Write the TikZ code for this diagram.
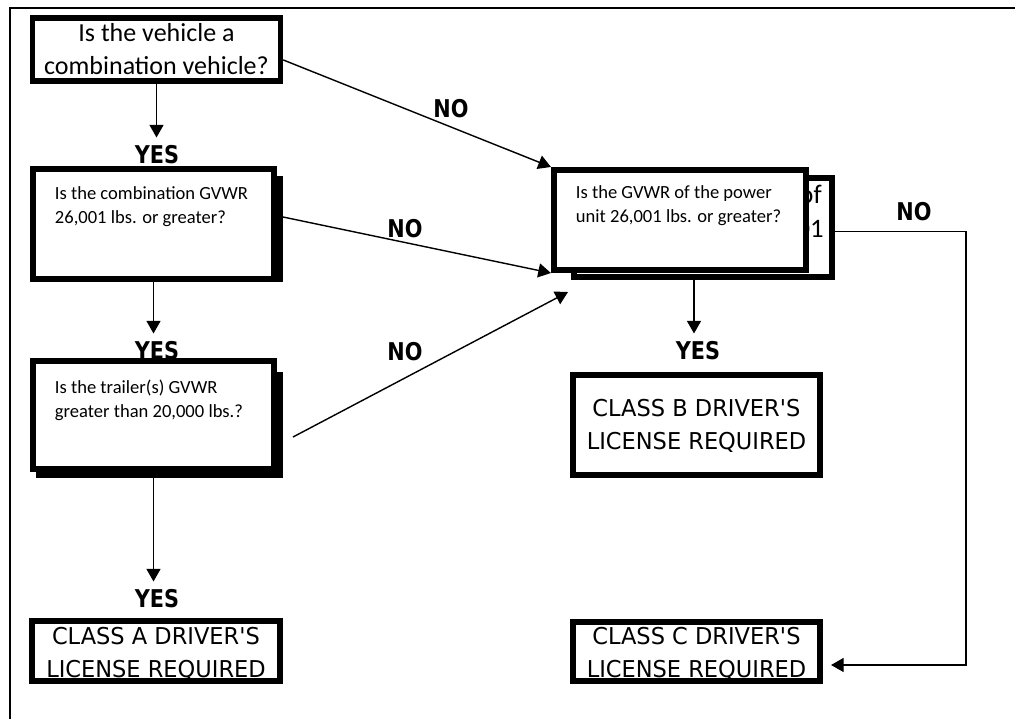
\documentclass[tikz,border=0pt]{standalone}
\usepackage{fontspec}
\setmainfont{Carlito}
\newfontfamily\lblfont[FakeStretch=0.85]{DejaVu Sans}
\newfontfamily\licfont[FakeStretch=0.97]{DejaVu Sans}
\usepackage{tikz}
\usetikzlibrary{arrows.meta}
\tikzset{qbox/.style={draw,line width=4pt,fill=white,inner sep=0pt},
 qtext/.style={inner sep=0pt,outer sep=0pt,anchor=north west,align=left,
  font=\fontsize{13.2}{17}\selectfont},
 frag/.style={inner sep=0pt,anchor=base east,font=\fontsize{19}{22}\selectfont},
 lictext/.style={inner sep=0pt,align=center,font=\licfont\fontsize{16.5}{23.5}\selectfont},
 yn/.style={inner sep=0.2cm,font=\lblfont\bfseries\fontsize{17.4}{20}\selectfont},
 arr/.style={line width=1pt,-{Triangle[length=9pt,width=10pt]}},
 }

\begin{document}
\begin{tikzpicture}[x=0.025cm,y=-0.025cm]
        \useasboundingbox (0,0) rectangle (1015,719);
        \draw[line width=1.2pt] (1015,8) -- (10,8) -- (10,719);

        \node[yn] (yes1) at (157,155) {YES};
        \node[yn] (yes2) at (157,351) {YES};
        \node[yn] (yes3) at (157,599) {YES};
        \node[yn] (yes4) at (698,351) {YES};

        \node[qbox,minimum width=6.19cm,minimum height=1.585cm,align=center,
          font=\fontsize{18.5}{23.5}\selectfont] (q1) at (156.5,49.5)
          {Is the vehicle a\\combination vehicle?};

        \node[qbox,minimum width=6.035cm,minimum height=2.51cm] (q2s) at (159.5,229) {};
        \node[qbox,minimum width=6.035cm,minimum height=2.76cm] (q2) at (153.5,224) {};
        \node[qtext] (q2t) at ([shift={(25,21)}]q2.north west)
          {Is the combination GVWR\\26,001 lbs. or greater?};

        \node[qbox,minimum width=6.035cm,minimum height=2.51cm] (q3s) at (159.5,425) {};
        \node[qbox,minimum width=6.035cm,minimum height=2.71cm] (q3) at (153.5,415) {};
        \node[qtext] (q3t) at ([shift={(25,22)}]q3.north west)
          {Is the trailer(s) GVWR\\greater than 20,000 lbs.?};

        \node[qbox,minimum width=6.46cm,minimum height=2.485cm] (q4b) at (703,227.5) {};
        \node[frag] (fragf) at (822,203) {of};
        \node[frag] (frag1) at (824,237) {01};
        \node[qbox,minimum width=6.31cm,minimum height=2.51cm] (q4) at (680,220) {};
        \node[qtext] (q4t) at ([shift={(25,19)}]q4.north west)
          {Is the GVWR of the power\\unit 26,001 lbs. or greater?};

        \node[qbox,minimum width=6.185cm,minimum height=2.51cm] (licB) at (696.5,425) {};
        \node[lictext] (licBt) at ([yshift=-0.03cm]licB.center)
          {CLASS B DRIVER\textquotesingle S\\LICENSE REQUIRED};
        \node[qbox,minimum width=6.21cm,minimum height=1.51cm] (licA) at (156,651) {};
        \node[lictext] (licAt) at ([yshift=-0.08cm]licA.center)
          {CLASS A DRIVER\textquotesingle S\\LICENSE REQUIRED};
        \node[qbox,minimum width=6.185cm,minimum height=1.485cm] (licC) at (696.5,651.5) {};
        \node[lictext] (licCt) at ([yshift=-0.07cm]licC.center)
          {CLASS C DRIVER\textquotesingle S\\LICENSE REQUIRED};

        \draw[arr] (q1.south) -- (q1.south |- yes1.north);
        \draw[arr] (q2.south) -- (q2.south |- yes2.north);
        \draw[arr] (q3.south) -- (q3.south |- yes3.north);
        \draw[arr] ([xshift=-0.225cm]q4b.south) -- ([xshift=-0.225cm]q4b.south |- yes4.north);

        \draw[arr] ([yshift=-0.26cm]q1.east) -- (q4.north west);
        \draw[arr] ([xshift=0.15cm,yshift=0.175cm]q2.east) -- (q4.south west);
        \coordinate (n3a) at (293,437);
        \coordinate (n3b) at (568,292);
        \draw[arr] (n3a) -- (n3b);
        \coordinate (cnr) at (966,665);
        \draw[arr] ([yshift=-0.1cm]q4b.east) -| (cnr) -- ([xshift=0.2cm]licC.east |- cnr);

        \node[yn] (no1) at (451,109) {NO};
        \node[yn] (no2) at (405,229) {NO};
        \node[yn] (no3) at (405,352) {NO};
        \node[yn] (no4) at (914,212) {NO};
    \end{tikzpicture}
\end{document}
